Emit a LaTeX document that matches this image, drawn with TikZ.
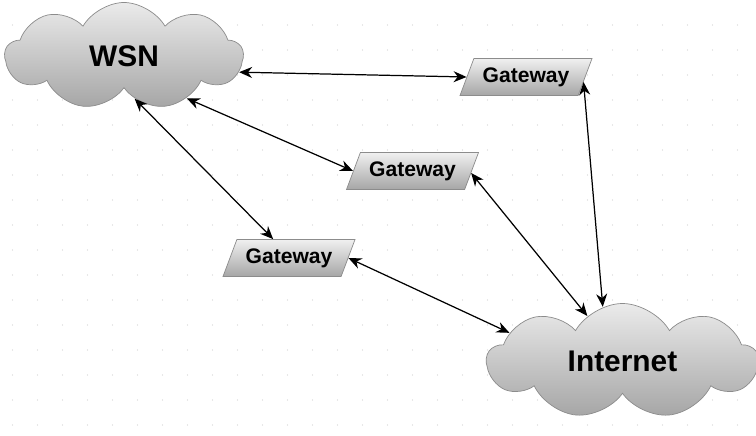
\documentclass[tikz,border=0pt]{standalone}
\usepackage{fontspec}
\setmainfont{Liberation Sans}
\usetikzlibrary{shapes.symbols,shapes.geometric,arrows.meta}
\begin{document}
\begin{tikzpicture}[
  net/.style={cloud, cloud puffs=9, cloud puff arc=120, aspect=2.2,
    draw=black!45, top color=black!8, bottom color=black!35,
    font=\fontsize{17pt}{19pt}\selectfont\bfseries},
  gate/.style={trapezium, trapezium left angle=54, trapezium right angle=126,
    trapezium stretches body, minimum width=2.64cm, minimum height=0.74cm,
    draw=black!45, top color=black!6, bottom color=black!35, inner sep=0pt,
    font=\fontsize{12pt}{14pt}\selectfont\bfseries},
  link/.style={{Stealth[length=2.6mm,width=2.2mm]}-{Stealth[length=2.6mm,width=2.2mm]}, line width=0.7pt}
]
\useasboundingbox (0, 0) rectangle (15.12, 8.72);
\fill [white] (0, 0) rectangle (15.12, 8.72);

% grid dots
\foreach \x in {0.25, 0.75, ..., 15.2}
  \foreach \y in {0.22, 0.72, ..., 8.7}
    \fill [black!18] (\x, \y) circle (0.012);

\node (wsn) at (2.48, 7.6) [net, minimum width=4.76cm, minimum height=2.14cm] {WSN};
\node (inet) at (12.45, 1.5) [net, minimum width=5.42cm, minimum height=2.3cm] {Internet};

\node (gwA) at (10.52, 7.18) [gate] {Gateway};
\node (gwB) at (8.25, 5.3) [gate] {Gateway};
\node (gwC) at (5.78, 3.56) [gate] {Gateway};

\draw [link] (wsn.-8) -- (gwA.west);
\draw [link] (wsn.-34) -- (gwB.west);
\draw [link] (wsn.-76) -- (gwC.130);
\draw [link] (gwC.east) -- (inet.166);
\draw [link] (gwB.-2) -- (inet.128);
\draw [link] (gwA.-5) -- (inet.110);
\end{tikzpicture}
\end{document}
